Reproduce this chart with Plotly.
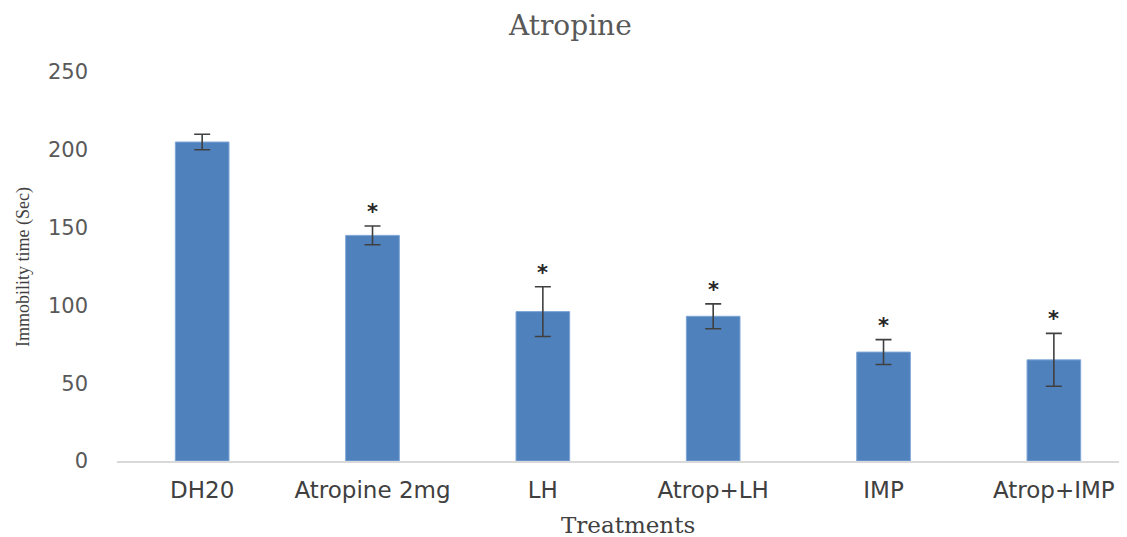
import plotly.graph_objects as go

categories = ["DH20", "Atropine 2mg", "LH", "Atrop+LH", "IMP", "Atrop+IMP"]
values = [205, 145, 96, 93, 70, 65]
errors = [5, 6, 16, 8, 8, 17]
marks = ["", "*", "*", "*", "*", "*"]
y_ticks = [0, 50, 100, 150, 200, 250]

# page body has an 8px margin; compensate so plot lands at reference pixels
OFF = 8
L, R, T = 117 - OFF, 5, 72 - OFF
W, H = 1127 - OFF, 537 - OFF
PH = 389
PW = W - L - R
B = H - T - PH

def px_x(x):
    return (x - OFF - L) / PW

def px_y(y):
    return (T + PH - (y - OFF)) / PH

fig = go.Figure()
fig.add_trace(go.Bar(
    x=list(range(len(categories))), y=values,
    marker=dict(color="#4F81BD", line=dict(color="#7EA6D6", width=1)),
    error_y=dict(type="data", array=errors, visible=True,
                 color="#404040", thickness=1.6, width=8),
    width=0.315,
))

for i, (v, e, m) in enumerate(zip(values, errors, marks)):
    if m:
        fig.add_annotation(x=i, y=v + e, text="<b>" + m + "</b>", showarrow=False,
                           yanchor="bottom", yshift=0,
                           font=dict(family="DejaVu Sans", size=21, color="#262626"))

fig.add_annotation(text="Atropine", xref="paper", yref="paper",
                   x=px_x(570), y=px_y(25),
                   showarrow=False, yanchor="middle", xanchor="center",
                   font=dict(family="DejaVu Serif", size=28, color="#595959"))
fig.add_annotation(text="Treatments", xref="paper", yref="paper",
                   x=px_x(628), y=px_y(525),
                   showarrow=False, yanchor="middle", xanchor="center",
                   font=dict(family="DejaVu Serif", size=23, color="#404040"))
fig.add_annotation(text="Immobility time (Sec)", xref="paper", yref="paper",
                   x=px_x(23), y=px_y(267), textangle=-90,
                   showarrow=False, yanchor="middle", xanchor="center",
                   font=dict(family="Liberation Serif", size=18, color="#404040"))

fig.update_layout(
    width=W, height=H,
    margin=dict(l=L, r=R, t=T, b=B),
    plot_bgcolor="white", paper_bgcolor="white",
    showlegend=False,
    xaxis=dict(range=[-0.5, 5.4], tickmode="array",
               tickvals=list(range(len(categories))), ticktext=categories,
               showline=True, linecolor="#D9D9D9", linewidth=1.5,
               showgrid=False, zeroline=False, ticks="", ticklabelstandoff=8,
               tickfont=dict(family="DejaVu Sans", size=23, color="#404040")),
    yaxis=dict(range=[0, 250], tickvals=y_ticks, showgrid=False, zeroline=False,
               showline=False, ticks="", ticklabelstandoff=28,
               tickfont=dict(family="DejaVu Sans", size=21, color="#595959")),
)

fig.write_html("out.html")
